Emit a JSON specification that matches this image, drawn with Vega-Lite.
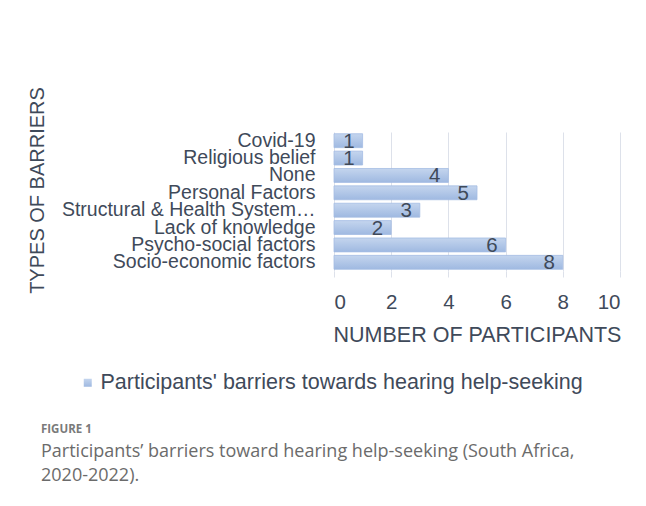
{
  "$schema": "https://vega.github.io/schema/vega-lite/v6.json",
  "width": 286,
  "height": 139,
  "padding": {"left": 334, "top": 132, "right": 26, "bottom": 235},
  "autosize": {"type": "none"},
  "background": "white",
  "config": {
    "font": "Liberation Sans",
    "view": {"stroke": null}
  },
  "data": {
    "values": [
      {"barrier": "Covid-19", "count": 1},
      {"barrier": "Religious belief", "count": 1},
      {"barrier": "None", "count": 4},
      {"barrier": "Personal Factors", "count": 5},
      {"barrier": "Structural & Health System…", "count": 3},
      {"barrier": "Lack of knowledge", "count": 2},
      {"barrier": "Psycho-social factors", "count": 6},
      {"barrier": "Socio-economic factors", "count": 8}
    ]
  },
  "title": {
    "text": "FIGURE 1",
    "subtitle": ["Participants’ barriers toward hearing help-seeking (South Africa,", "2020-2022)."],
    "orient": "bottom",
    "anchor": "start",
    "frame": "bounds",
    "font": "Open Sans",
    "fontSize": 11.5,
    "fontWeight": "bold",
    "color": "#7a7a7a",
    "subtitleFont": "Open Sans",
    "subtitleFontSize": 18,
    "subtitleColor": "#6b6b6b",
    "subtitleLineHeight": 24,
    "subtitlePadding": 7,
    "offset": 30,
    "dx": 14
  },
  "encoding": {
    "y": {
      "field": "barrier",
      "type": "nominal",
      "sort": null,
      "scale": {"paddingInner": 0.2, "paddingOuter": 0.1},
      "axis": {
        "title": "TYPES OF BARRIERS",
        "titleFontSize": 20,
        "titleFontWeight": "normal",
        "titleColor": "#3f4a5a",
        "titleX": -287,
        "titleY": 58,
        "titleAngle": -90,
        "titleBaseline": "bottom",
        "titleAlign": "center",
        "labelFontSize": 19.5,
        "labelColor": "#3f4a5a",
        "labelPadding": 19,
        "labelLimit": 400,
        "ticks": false,
        "domain": false
      }
    },
    "x": {
      "field": "count",
      "type": "quantitative",
      "scale": {"domain": [0, 10]},
      "axis": {
        "title": "NUMBER OF PARTICIPANTS",
        "titleFontSize": 21.5,
        "titleFontWeight": "normal",
        "titleColor": "#3f4a5a",
        "titlePadding": 12,
        "values": [0, 2, 4, 6, 8, 10],
        "labelFontSize": 20.5,
        "labelColor": "#3f4a5a",
        "labelPadding": 15,
        "grid": true,
        "gridColor": "#dde1ea",
        "ticks": true,
        "tickColor": "#dde1ea",
        "tickSize": 6,
        "domain": false
      }
    }
  },
  "layer": [
    {
      "mark": {
        "type": "bar",
        "fill": {
          "gradient": "linear",
          "x1": 0, "y1": 0, "x2": 0, "y2": 1,
          "stops": [
            {"offset": 0, "color": "#c4d5ee"},
            {"offset": 1, "color": "#9fb9e1"}
          ]
        },
        "strokeWidth": 0.8
      },
      "encoding": {
        "stroke": {
          "datum": "Participants' barriers towards hearing help-seeking",
          "type": "nominal",
          "scale": {"range": ["#a5bde3"]},
          "legend": {
            "title": null,
            "orient": "none",
            "legendX": -257,
            "legendY": 240,
            "symbolType": "square",
            "symbolSize": 64,
            "symbolFillColor": "#a9bfe2",
            "symbolStrokeWidth": 0,
            "labelFontSize": 21.5,
            "labelColor": "#3f4a5a",
            "labelLimit": 700,
            "labelOffset": 2
          }
        }
      }
    },
    {
      "mark": {"type": "text", "align": "right", "baseline": "middle", "dx": -8, "dy": 1, "fontSize": 20.5, "color": "#3f4a5a"},
      "encoding": {
        "text": {"field": "count", "type": "quantitative"}
      }
    }
  ]
}
